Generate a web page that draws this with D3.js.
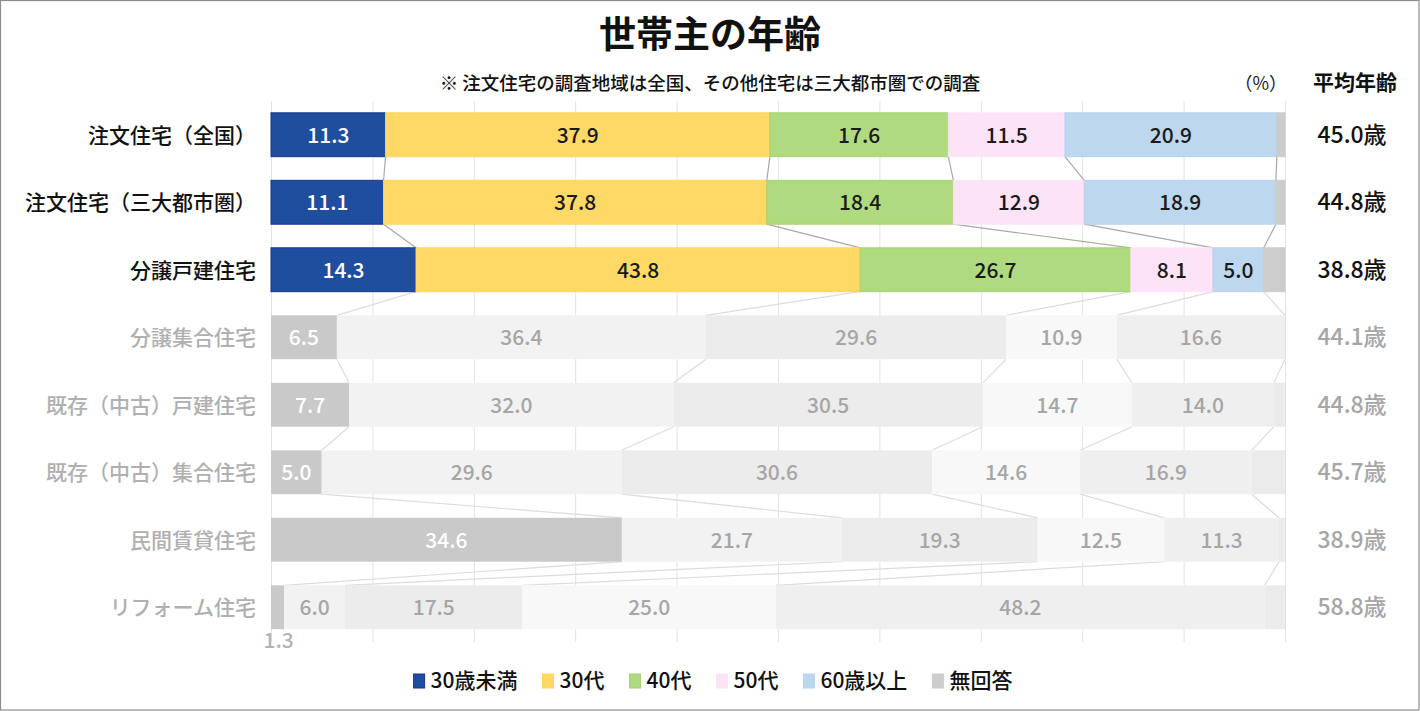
<!DOCTYPE html>
<html>
<head>
<meta charset="utf-8">
<script src="https://cdn.jsdelivr.net/npm/d3@7.9.0/dist/d3.min.js"></script>
<style>
  html, body { margin: 0; padding: 0; background: #fff; }
  svg { display: block; font-family: "Noto Sans CJK JP", "Noto Sans", sans-serif; }
</style>
</head>
<body>
<svg id="chart" width="1420" height="711"></svg>
<script>
// categories (rows, top to bottom)
const categories = ['注文住宅（全国）', '注文住宅（三大都市圏）', '分譲戸建住宅', '分譲集合住宅',
  '既存（中古）戸建住宅', '既存（中古）集合住宅', '民間賃貸住宅', 'リフォーム住宅'];
const seriesNames = ['30歳未満', '30代', '40代', '50代', '60歳以上', '無回答'];

// share per age group, one array per series (values in %)
const under30 = [11.3, 11.1, 14.3, 6.5, 7.7, 5.0, 34.6, 1.3];
const age30s  = [37.9, 37.8, 43.8, 36.4, 32.0, 29.6, 21.7, 6.0];
const age40s  = [17.6, 18.4, 26.7, 29.6, 30.5, 30.6, 19.3, 17.5];
const age50s  = [11.5, 12.9, 8.1, 10.9, 14.7, 14.6, 12.5, 25.0];
const over60  = [20.9, 18.9, 5.0, 16.6, 14.0, 16.9, 11.3, 48.2];
const noAnswer = [0.8, 0.9, 2.1, 0.0, 1.1, 3.3, 0.6, 2.0];
const avgAge = ['45.0', '44.8', '38.8', '44.1', '44.8', '45.7', '38.9', '58.8'];

const highlighted = 3; // first three rows in colour, the rest greyed out
const colors = ['#1f4e9f', '#ffd966', '#b0da80', '#fde3f8', '#bdd7ee', '#cccccc'];
const strokes = ['#16358a', '#ffd45c', '#a6d06f', '#fde3f8', '#b5d1ec', '#cccccc'];
const greys = ['#c9c9c9', '#f2f2f2', '#ececec', '#f8f8f8', '#efefef', '#ebebeb'];

const seriesValues = [under30, age30s, age40s, age50s, over60, noAnswer];

const svg = d3.select('#chart');
const W = 1420, H = 711;

svg.append('rect').attr('x', 0.5).attr('y', 0.5).attr('width', W - 1.5).attr('height', H - 1.5)
  .attr('fill', '#fff').attr('stroke', '#8c8c8c').attr('stroke-width', 1.2);

const x = d3.scaleLinear().domain([0, 100]).range([271, 1285]);
const y = d3.scaleBand().domain(categories).range([101, 641]).paddingInner(0.35).paddingOuter(0.175);
const bw = y.bandwidth();

// title + notes
svg.append('text').attr('x', 710).attr('y', 48).attr('text-anchor', 'middle')
  .attr('font-size', 37).attr('font-weight', 700).attr('fill', '#111').text('世帯主の年齢');
svg.append('text').attr('x', 710).attr('y', 90).attr('text-anchor', 'middle')
  .attr('font-size', 18.5).attr('font-weight', 500).attr('fill', '#111')
  .text('※ 注文住宅の調査地域は全国、その他住宅は三大都市圏での調査');
svg.append('text').attr('x', 1287).attr('y', 90).attr('text-anchor', 'end')
  .attr('font-size', 18).attr('fill', '#222').text('（%）');
svg.append('text').attr('x', 1355).attr('y', 90).attr('text-anchor', 'middle')
  .attr('font-size', 21).attr('font-weight', 700).attr('fill', '#111').text('平均年齢');

// vertical gridlines
const grid = svg.append('g').attr('transform', 'translate(0,101)')
  .call(d3.axisTop(x).tickValues(d3.range(0, 101, 10)).tickSize(-(642 - 101)).tickFormat(''));
grid.select('.domain').remove();
grid.selectAll('line').attr('stroke', '#e3e3e3');

// stacked rows
const rows = categories.map((c, i) => {
  let acc = 0;
  const segs = seriesValues.map((vals, k) => {
    const s = { cat: c, row: i, k, v: vals[i], x0: acc, x1: acc + vals[i] };
    acc += vals[i];
    return s;
  });
  // last segment closes the bar at 100%
  segs[segs.length - 1].x1 = 100;
  return segs;
});

// series lines between neighbouring bars
const lines = [];
for (let i = 0; i < rows.length - 1; i++) {
  for (let k = 0; k < seriesNames.length - 1; k++) {
    lines.push({ i, xa: rows[i][k].x1, xb: rows[i + 1][k].x1 });
  }
}
svg.append('g').selectAll('line').data(lines).join('line')
  .attr('x1', d => x(d.xa)).attr('y1', d => y(categories[d.i]) + bw)
  .attr('x2', d => x(d.xb)).attr('y2', d => y(categories[d.i + 1]))
  .attr('stroke', d => d.i < highlighted - 1 ? '#a8a8a8' : '#dcdcdc')
  .attr('stroke-width', 1.2);

const segs = rows.flat();
svg.append('g').selectAll('rect').data(segs).join('rect')
  .attr('x', d => x(d.x0)).attr('y', d => y(d.cat))
  .attr('width', d => Math.max(0, x(d.x1) - x(d.x0))).attr('height', bw)
  .attr('fill', d => d.row < highlighted ? colors[d.k] : greys[d.k])
  .attr('stroke', d => d.row < highlighted ? strokes[d.k] : 'none')
  .attr('stroke-width', 1);

// data labels (no label for 無回答)
const labelled = segs.filter(d => d.k < seriesNames.length - 1);
svg.append('g').selectAll('text').data(labelled).join('text')
  .attr('x', d => x((d.x0 + d.x1) / 2) + (d.v < 2 ? 1 : 0))
  .attr('y', d => d.v < 2 ? y(d.cat) + bw + 19 : y(d.cat) + bw / 2 + 8)
  .attr('text-anchor', 'middle')
  .attr('font-size', 21).attr('font-weight', 500)
  .attr('fill', d => {
    if (d.v < 2) return '#b3b3b3';
    if (d.k === 0) return '#fff';
    return d.row < highlighted ? '#1a1a1a' : '#a6a6a6';
  })
  .text(d => d.v.toFixed(1));

// category labels
svg.append('g').selectAll('text').data(categories).join('text')
  .attr('x', 256).attr('y', d => y(d) + bw / 2 + 8)
  .attr('text-anchor', 'end').attr('font-size', 21).attr('font-weight', 500)
  .attr('fill', (d, i) => i < highlighted ? '#111' : '#b0b0b0')
  .text(d => d);

// average age column
svg.append('g').selectAll('text').data(avgAge).join('text')
  .attr('x', 1352).attr('y', (d, i) => y(categories[i]) + bw / 2 + 8)
  .attr('text-anchor', 'middle').attr('font-size', 23).attr('font-weight', 500)
  .attr('fill', (d, i) => i < highlighted ? '#111' : '#a6a6a6')
  .text(d => d + '歳');

// legend
const legend = svg.append('g');
let lx = 0;
seriesNames.forEach((name, k) => {
  const g = legend.append('g').attr('transform', `translate(${lx},0)`);
  g.append('rect').attr('x', 0).attr('y', -14).attr('width', 11).attr('height', 14)
    .attr('fill', colors[k]).attr('stroke', strokes[k]);
  const t = g.append('text').attr('x', 17).attr('y', 0).attr('font-size', 21)
    .attr('font-weight', 500).attr('fill', '#111').text(name);
  lx += 17 + t.node().getComputedTextLength() + 25;
});
const lw = lx - 25;
legend.attr('transform', `translate(${710 - lw / 2 + 3},688)`);
</script>
</body>
</html>
